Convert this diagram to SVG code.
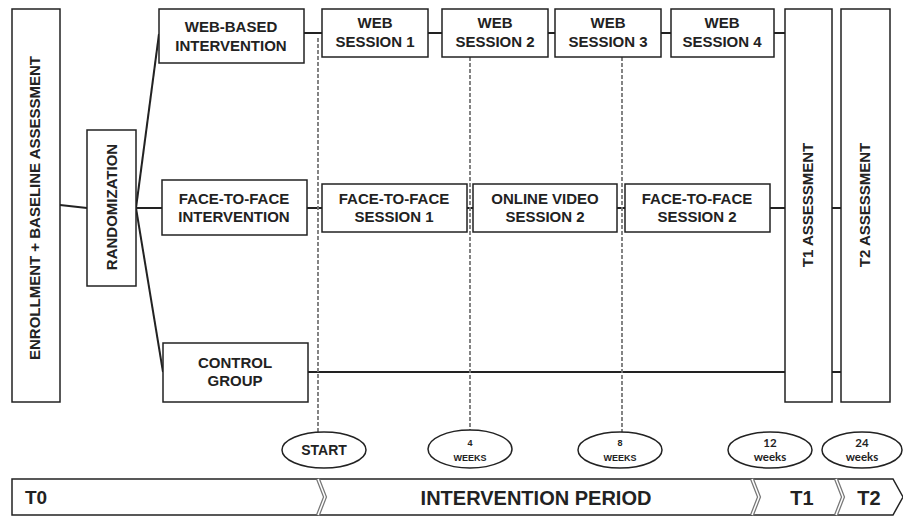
<svg xmlns="http://www.w3.org/2000/svg" width="903" height="516" viewBox="0 0 903 516">
<style>
.box{fill:#fff;stroke:#222;stroke-width:1.5}
.t{font-family:"Liberation Sans",Arial,sans-serif;font-weight:bold;font-size:15px;fill:#222;text-anchor:middle}
.c{stroke:#222;stroke-width:2;fill:none}
.d{stroke:#777;stroke-width:1.8;stroke-dasharray:4 2;fill:none}
.el{fill:#fff;stroke:#222;stroke-width:1.5}
.s{font-family:"Liberation Sans",Arial,sans-serif;font-weight:bold;fill:#222;text-anchor:middle}
.w{font-family:Lato,"Open Sans",sans-serif;font-weight:bold;fill:#222;text-anchor:middle}
.sep{stroke:#777;stroke-width:4;fill:none}
.sepi{stroke:#fff;stroke-width:1.5;fill:none}
</style>
<rect width="903" height="516" fill="#fff"/>
<g id="connectors">
<line class="c" x1="60" y1="205" x2="87" y2="208"/>
<line class="c" x1="136" y1="208" x2="159" y2="34"/>
<line class="c" x1="136" y1="208" x2="162" y2="208"/>
<line class="c" x1="136" y1="208" x2="163" y2="372"/>
<line class="c" x1="304" y1="33" x2="322" y2="33"/>
<line class="c" x1="428" y1="33" x2="442" y2="33"/>
<line class="c" x1="548" y1="33" x2="555" y2="33"/>
<line class="c" x1="661" y1="33" x2="671" y2="33"/>
<line class="c" x1="774" y1="33" x2="785" y2="33"/>
<line class="c" x1="307" y1="208" x2="322" y2="208"/>
<line class="c" x1="467" y1="208" x2="473" y2="208"/>
<line class="c" x1="617" y1="208" x2="625" y2="208"/>
<line class="c" x1="770" y1="208" x2="785" y2="208"/>
<line class="c" x1="832" y1="208" x2="841" y2="208"/>
<line class="c" x1="308" y1="372" x2="785" y2="372"/>
<line class="c" x1="832" y1="372" x2="841" y2="372"/>
<line class="d" x1="318" y1="38" x2="318" y2="432"/>
<line class="d" x1="470" y1="57" x2="470" y2="430"/>
<line class="d" x1="622" y1="57" x2="622" y2="432"/>
</g>
<g id="enrollment">
<rect class="box" x="12" y="9" width="48" height="393"/>
<text class="t" transform="translate(40,208) rotate(-90)">ENROLLMENT + BASELINE ASSESSMENT</text>
</g>
<g id="randomization">
<rect class="box" x="87" y="130" width="49" height="156"/>
<text class="t" transform="translate(117,207) rotate(-90)">RANDOMIZATION</text>
</g>
<g id="web-based">
<rect class="box" x="159" y="9" width="145" height="54"/>
<text class="t" x="231" y="32">WEB-BASED</text>
<text class="t" x="231" y="51">INTERVENTION</text>
</g>
<g id="face-to-face">
<rect class="box" x="162" y="180" width="145" height="55"/>
<text class="t" x="234" y="204">FACE-TO-FACE</text>
<text class="t" x="234" y="222">INTERVENTION</text>
</g>
<g id="control">
<rect class="box" x="163" y="343" width="145" height="59"/>
<text class="t" x="235" y="368">CONTROL</text>
<text class="t" x="235" y="386">GROUP</text>
</g>
<g id="web1">
<rect class="box" x="322" y="9" width="106" height="48"/>
<text class="t" x="375" y="28">WEB</text>
<text class="t" x="375" y="47">SESSION 1</text>
</g>
<g id="web2">
<rect class="box" x="442" y="9" width="106" height="48"/>
<text class="t" x="495" y="28">WEB</text>
<text class="t" x="495" y="47">SESSION 2</text>
</g>
<g id="web3">
<rect class="box" x="555" y="9" width="106" height="48"/>
<text class="t" x="608" y="28">WEB</text>
<text class="t" x="608" y="47">SESSION 3</text>
</g>
<g id="web4">
<rect class="box" x="671" y="9" width="103" height="48"/>
<text class="t" x="722" y="28">WEB</text>
<text class="t" x="722" y="47">SESSION 4</text>
</g>
<g id="f2f1">
<rect class="box" x="322" y="184" width="145" height="48"/>
<text class="t" x="394" y="204">FACE-TO-FACE</text>
<text class="t" x="394" y="222">SESSION 1</text>
</g>
<g id="video2">
<rect class="box" x="473" y="184" width="144" height="48"/>
<text class="t" x="545" y="204">ONLINE VIDEO</text>
<text class="t" x="545" y="222">SESSION 2</text>
</g>
<g id="f2f2">
<rect class="box" x="625" y="184" width="145" height="48"/>
<text class="t" x="697" y="204">FACE-TO-FACE</text>
<text class="t" x="697" y="222">SESSION 2</text>
</g>
<g id="t1">
<rect class="box" x="785" y="9" width="47" height="393"/>
<text class="t" transform="translate(813,205) rotate(-90)">T1 ASSESSMENT</text>
</g>
<g id="t2">
<rect class="box" x="841" y="9" width="49" height="393"/>
<text class="t" transform="translate(870,205) rotate(-90)">T2 ASSESSMENT</text>
</g>
<g id="start">
<ellipse class="el" cx="324" cy="450" rx="42" ry="18"/>
<text class="s" x="324" y="455" font-size="14">START</text>
</g>
<g id="w4">
<ellipse class="el" cx="470" cy="449" rx="42" ry="19"/>
<text class="s" x="470" y="446" font-size="9">4</text>
<text class="s" x="470" y="461" font-size="9">WEEKS</text>
</g>
<g id="w8">
<ellipse class="el" cx="620" cy="450" rx="42" ry="18"/>
<text class="s" x="620" y="446" font-size="9">8</text>
<text class="s" x="620" y="461" font-size="9">WEEKS</text>
</g>
<g id="w12">
<ellipse class="el" cx="770" cy="450" rx="42" ry="18"/>
<text class="w" x="770" y="447" font-size="11.5">12</text>
<text class="w" x="770" y="461" font-size="11.5">weeks</text>
</g>
<g id="w24">
<ellipse class="el" cx="862" cy="450" rx="40" ry="18"/>
<text class="w" x="862" y="447" font-size="11.5">24</text>
<text class="w" x="862" y="461" font-size="11.5">weeks</text>
</g>
<g id="timeline">
<polygon points="12,479 893,479 903,497 893,515 12,515" fill="#fff" stroke="#222" stroke-width="1.5"/>
<polyline class="sep" points="318,479 325,497 318,515"/>
<polyline class="sepi" points="318,479 325,497 318,515"/>
<polyline class="sep" points="752,479 759,497 752,515"/>
<polyline class="sepi" points="752,479 759,497 752,515"/>
<polyline class="sep" points="836,479 843,497 836,515"/>
<polyline class="sepi" points="836,479 843,497 836,515"/>
<text class="s" x="25" y="504" font-size="19" style="text-anchor:start">T0</text>
<text class="s" x="536" y="505" font-size="20">INTERVENTION PERIOD</text>
<text class="s" x="802" y="505" font-size="20">T1</text>
<text class="s" x="869" y="505" font-size="20">T2</text>
</g>
</svg>
